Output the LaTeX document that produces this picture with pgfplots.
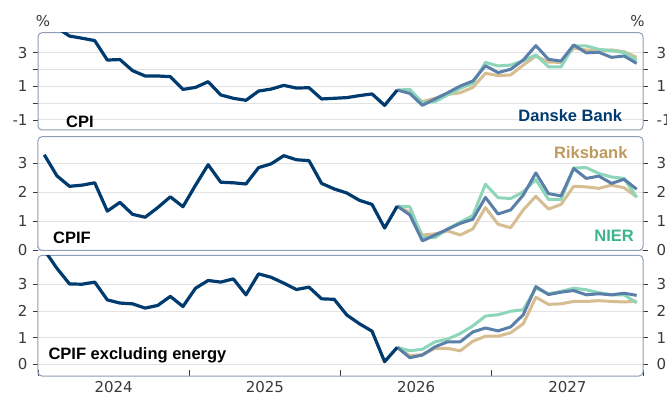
\documentclass[border=0pt]{standalone}
\usepackage{fontspec}
\setmainfont{DejaVu Sans}
\newfontfamily\lab{Liberation Sans}
\usepackage{pgfplots}
\usepackage{pgfplotstable}
\pgfplotsset{compat=1.18}

\definecolor{navy}{RGB}{0,59,111}
\definecolor{danske}{RGB}{90,128,170}
\definecolor{riks}{RGB}{215,189,146}
\definecolor{rikslab}{RGB}{190,154,92}
\definecolor{nier}{RGB}{141,214,185}
\definecolor{nierlab}{RGB}{61,180,139}
\definecolor{boxc}{RGB}{142,158,181}
\definecolor{gridc}{RGB}{226,226,226}
\definecolor{tickc}{RGB}{58,58,58}

\pgfplotstableread{
i h d r n
0 5.4 nan nan nan
1 4.5 nan nan nan
2 4.0 nan nan nan
3 3.87 nan nan nan
4 3.73 nan nan nan
5 2.57 nan nan nan
6 2.6 nan nan nan
7 1.94 nan nan nan
8 1.62 nan nan nan
9 1.62 nan nan nan
10 1.58 nan nan nan
11 0.82 nan nan nan
12 0.94 nan nan nan
13 1.28 nan nan nan
14 0.49 nan nan nan
15 0.29 nan nan nan
16 0.17 nan nan nan
17 0.72 nan nan nan
18 0.84 nan nan nan
19 1.06 nan nan nan
20 0.9 nan nan nan
21 0.92 nan nan nan
22 0.25 nan nan nan
23 0.29 nan nan nan
24 0.33 nan nan nan
25 0.45 nan nan nan
26 0.55 nan nan nan
27 -0.13 nan nan nan
28 0.78 0.78 0.78 0.78
29 nan 0.58 0.68 0.82
30 nan -0.13 0.09 0.03
31 nan 0.25 0.29 0.09
32 nan 0.62 0.52 0.49
33 nan 1.02 0.62 0.88
34 nan 1.32 0.94 1.18
35 nan 2.23 1.78 2.43
36 nan 1.82 1.64 2.22
37 nan 2.02 1.68 2.27
38 nan 2.57 2.27 2.53
39 nan 3.43 2.81 2.87
40 nan 2.61 2.45 2.17
41 nan 2.51 2.43 2.17
42 nan 3.47 3.27 3.41
43 nan 3.0 3.17 3.41
44 nan 3.03 3.13 3.21
45 nan 2.73 3.17 3.13
46 nan 2.81 3.07 3.01
47 nan 2.37 2.73 2.57
}\cpi

\pgfplotstableread{
i h d r n
0 3.28 nan nan nan
1 2.56 nan nan nan
2 2.2 nan nan nan
3 2.24 nan nan nan
4 2.32 nan nan nan
5 1.35 nan nan nan
6 1.65 nan nan nan
7 1.24 nan nan nan
8 1.14 nan nan nan
9 1.47 nan nan nan
10 1.84 nan nan nan
11 1.5 nan nan nan
12 2.24 nan nan nan
13 2.94 nan nan nan
14 2.34 nan nan nan
15 2.32 nan nan nan
16 2.28 nan nan nan
17 2.84 nan nan nan
18 2.97 nan nan nan
19 3.25 nan nan nan
20 3.11 nan nan nan
21 3.08 nan nan nan
22 2.3 nan nan nan
23 2.11 nan nan nan
24 1.97 nan nan nan
25 1.72 nan nan nan
26 1.58 nan nan nan
27 0.77 nan nan nan
28 1.52 1.52 1.52 1.52
29 nan 1.22 1.31 1.5
30 nan 0.33 0.53 0.44
31 nan 0.53 0.57 0.44
32 nan 0.73 0.67 0.74
33 nan 0.93 0.53 0.97
34 nan 1.07 0.74 1.2
35 nan 1.82 1.47 2.27
36 nan 1.25 0.9 1.81
37 nan 1.39 0.78 1.78
38 nan 1.9 1.39 2.01
39 nan 2.66 1.86 2.43
40 nan 1.95 1.42 1.75
41 nan 1.87 1.58 1.75
42 nan 2.81 2.2 2.83
43 nan 2.47 2.18 2.84
44 nan 2.55 2.13 2.64
45 nan 2.3 2.24 2.52
46 nan 2.44 2.15 2.47
47 nan 2.1 1.84 1.82
}\cpif

\pgfplotstableread{
i h d r n
0 4.3 nan nan nan
1 3.61 nan nan nan
2 3.02 nan nan nan
3 3.01 nan nan nan
4 3.09 nan nan nan
5 2.42 nan nan nan
6 2.3 nan nan nan
7 2.27 nan nan nan
8 2.11 nan nan nan
9 2.21 nan nan nan
10 2.55 nan nan nan
11 2.17 nan nan nan
12 2.86 nan nan nan
13 3.15 nan nan nan
14 3.09 nan nan nan
15 3.21 nan nan nan
16 2.61 nan nan nan
17 3.4 nan nan nan
18 3.27 nan nan nan
19 3.05 nan nan nan
20 2.81 nan nan nan
21 2.9 nan nan nan
22 2.46 nan nan nan
23 2.44 nan nan nan
24 1.85 nan nan nan
25 1.52 nan nan nan
26 1.24 nan nan nan
27 0.09 nan nan nan
28 0.63 0.63 0.63 0.63
29 nan 0.24 0.31 0.5
30 nan 0.34 0.36 0.56
31 nan 0.65 0.59 0.84
32 nan 0.84 0.59 0.94
33 nan 0.84 0.5 1.15
34 nan 1.21 0.86 1.44
35 nan 1.36 1.05 1.81
36 nan 1.25 1.05 1.86
37 nan 1.4 1.18 1.99
38 nan 1.86 1.52 2.05
39 nan 2.92 2.52 2.86
40 nan 2.62 2.25 2.65
41 nan 2.71 2.27 2.74
42 nan 2.77 2.36 2.86
43 nan 2.61 2.36 2.8
44 nan 2.65 2.39 2.69
45 nan 2.61 2.36 2.61
46 nan 2.67 2.34 2.61
47 nan 2.59 2.37 2.31
}\cpixe

\pgfplotsset{
  panel/.style={
    scale only axis, width=605bp, anchor=south west,
    xmin=-0.5, xmax=47.5,
    clip mode=individual,
    axis line style={draw=boxc, line width=1bp, rounded corners=4bp},
    xtick=\empty,
    ytick align=outside, ytick pos=both, yticklabel pos=left,
    major tick length=5bp,
    y tick style={draw=tickc, line width=0.8bp},
    ymajorgrids, grid style={draw=gridc, line width=0.9bp},
    yticklabel style={font=\fontsize{15bp}{18bp}\selectfont, text=tickc, xshift=-2bp},
    tick label style={font=\fontsize{15bp}{18bp}\selectfont, text=tickc},
  },
  riksp/.style={draw=riks, line width=3bp, line join=round},
  nierp/.style={draw=nier, line width=3bp, line join=round},
  danp/.style={draw=danske, line width=3bp, line join=round},
  histp/.style={draw=navy, line width=3.2bp, line join=round},
}

\newcommand{\rlab}[2]{\node[anchor=west, font=\fontsize{15bp}{18bp}\selectfont, text=tickc, inner sep=0pt] at (axis cs:47.5,#1) [xshift=13.5bp] {#2};}

\begin{document}
\begin{tikzpicture}
\useasboundingbox (0,0) rectangle (667bp,400bp);
\fill[white] (0,0) rectangle (667bp,400bp);

% Panel 1: CPI
\begin{axis}[panel, at={(38bp,270bp)}, height=97.3bp,
  ymin=-1.6, ymax=4.2, ytick={-1,0,1,2,3}, yticklabels={-1,,1,,3}]
\addplot[riksp] table[x=i, y=r] {\cpi};
\addplot[nierp] table[x=i, y=n] {\cpi};
\addplot[danp] table[x=i, y=d] {\cpi};
\addplot[histp] table[x=i, y=h] {\cpi};
\rlab{3}{3}\rlab{1}{1}\rlab{-1}{-1}
\end{axis}

% Panel 2: CPIF
\begin{axis}[panel, at={(38bp,149.5bp)}, height=113.8bp,
  ymin=0, ymax=3.9, ytick={0,1,2,3}, yticklabels={0,1,2,3}]
\addplot[riksp] table[x=i, y=r] {\cpif};
\addplot[nierp] table[x=i, y=n] {\cpif};
\addplot[danp] table[x=i, y=d] {\cpif};
\addplot[histp] table[x=i, y=h] {\cpif};
\rlab{3}{3}\rlab{2}{2}\rlab{1}{1}\rlab{0}{0}
\end{axis}

% Panel 3: CPIF excluding energy
\begin{axis}[panel, at={(38bp,24bp)}, height=120.7bp,
  ymin=-0.45, ymax=4.1, ytick={0,1,2,3}, yticklabels={0,1,2,3},
  xtick={5.5,17.5,29.5,41.5}, xticklabels={2024,2025,2026,2027},
  major x tick style={draw=none},
  minor xtick={-0.5,11.5,23.5,35.5,47.5},
  minor x tick style={draw=tickc, line width=0.8bp},
  minor tick length=5.5bp, xtick pos=bottom,
  xticklabel style={yshift=-2bp}]
\addplot[riksp] table[x=i, y=r] {\cpixe};
\addplot[nierp] table[x=i, y=n] {\cpixe};
\addplot[danp] table[x=i, y=d] {\cpixe};
\addplot[histp] table[x=i, y=h] {\cpixe};
\rlab{3}{3}\rlab{2}{2}\rlab{1}{1}\rlab{0}{0}
\end{axis}

% labels
\begin{scope}[every node/.style={inner sep=0pt}]
\node[anchor=base west, font=\lab\bfseries\fontsize{16.5bp}{19bp}\selectfont] at (66bp,272.4bp) {CPI};
\node[anchor=base west, font=\lab\bfseries\fontsize{16.5bp}{19bp}\selectfont] at (53bp,156.7bp) {CPIF};
\node[anchor=base west, font=\lab\bfseries\fontsize{16.5bp}{19bp}\selectfont] at (48.3bp,40bp) {CPIF excluding energy};
\node[anchor=base east, text=navy, font=\lab\bfseries\fontsize{16.5bp}{19bp}\selectfont] at (622.3bp,278.3bp) {Danske Bank};
\node[anchor=base east, text=rikslab, font=\lab\bfseries\fontsize{16.5bp}{19bp}\selectfont] at (627.7bp,241.7bp) {Riksbank};
\node[anchor=base east, text=nierlab, font=\lab\bfseries\fontsize{16.5bp}{19bp}\selectfont] at (634bp,158.3bp) {NIER};
\node[anchor=base, text=tickc, font=\fontsize{15bp}{18bp}\selectfont] at (43bp,373bp) {\%};
\node[anchor=base, text=tickc, font=\fontsize{15bp}{18bp}\selectfont] at (637.5bp,373bp) {\%};
\end{scope}
\end{tikzpicture}
\end{document}
